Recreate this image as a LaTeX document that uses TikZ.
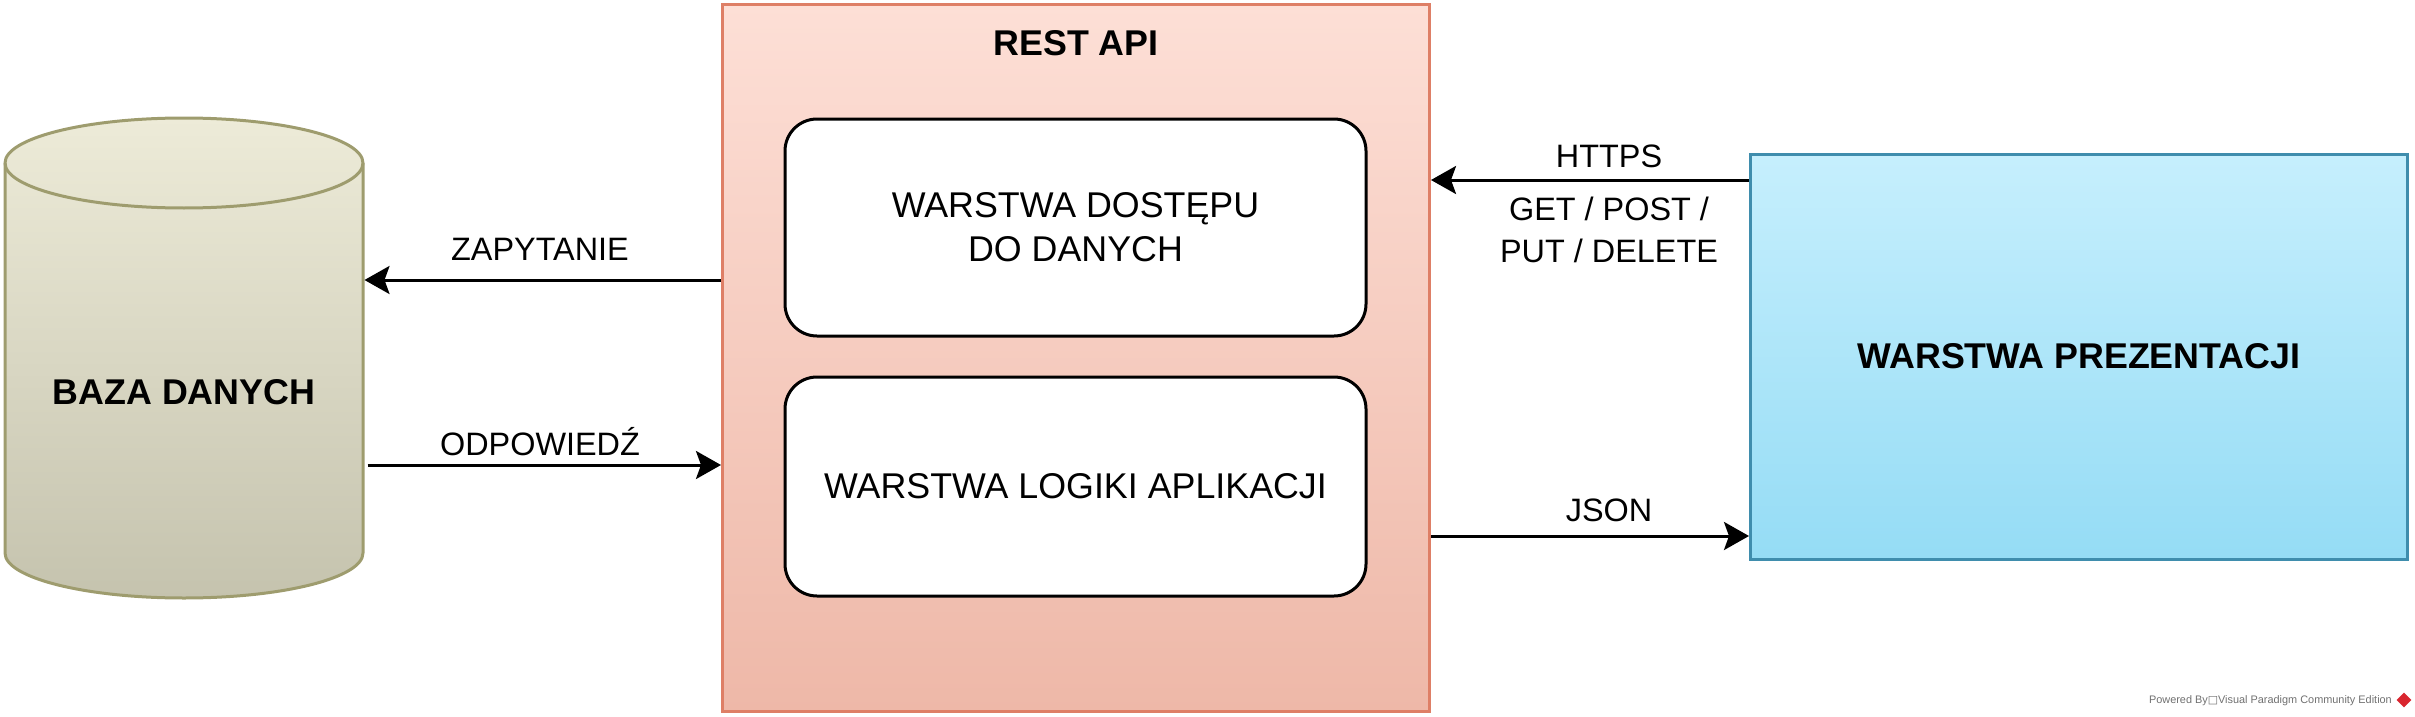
\documentclass[tikz,border=0pt]{standalone}
\usepackage{fontspec}
\setmainfont{Liberation Sans}
\newfontfamily\dejavu{DejaVu Sans}
\usetikzlibrary{arrows.meta,shapes.geometric}
\definecolor{dbtop}{HTML}{EDEBD8}
\definecolor{dbbot}{HTML}{C5C3AE}
\definecolor{dbstroke}{HTML}{9E9C6E}
\definecolor{apitop}{HTML}{FDDFD6}
\definecolor{apibot}{HTML}{EEB8A8}
\definecolor{apistroke}{HTML}{DE7F66}
\definecolor{prestop}{HTML}{C6EFFD}
\definecolor{presbot}{HTML}{95DCF5}
\definecolor{presstroke}{HTML}{3F8DAD}
\definecolor{wmgray}{HTML}{707070}
\definecolor{vpred}{HTML}{D9262F}
\tikzset{
  big/.style={font=\fontsize{35.8}{44}\selectfont},
  bigbold/.style={font=\fontsize{35.8}{44}\selectfont\bfseries},
  elabel/.style={font=\fontsize{32.4}{42}\selectfont, align=center, inner sep=0pt},
  layerbox/.style={draw=black, fill=white, line width=3pt, rounded corners=32pt,
    minimum width=581pt, align=center, big},
  arr/.style={line width=3pt, -{Stealth[length=25pt, width=28pt, inset=5pt]}},
}
\begin{document}
\begin{tikzpicture}[x=1pt,y=-1pt]
\useasboundingbox (0,0) rectangle (2415,717);
% database cylinder
\shade[top color=dbtop, bottom color=dbbot, draw=dbstroke, line width=3pt]
  (5,163) -- (5,553) arc[start angle=180, end angle=360, x radius=179pt, y radius=45pt]
  -- (363,163) arc[start angle=0, end angle=180, x radius=179pt, y radius=45pt] -- cycle;
\draw[dbstroke, line width=3pt] (5,163) arc[start angle=180, end angle=360, x radius=179pt, y radius=45pt];
\node[minimum width=358pt, minimum height=481pt, inner sep=0pt, outer sep=1.5pt] (db) at (184,357.5) {};
\node[bigbold] (dblabel) at (184,392) {BAZA DANYCH};
% REST API
\node[draw=apistroke, line width=3pt, top color=apitop, bottom color=apibot,
  minimum width=707pt, minimum height=706pt, inner sep=0pt] (api) at (1076,358) {};
\node[bigbold] (apititle) at (1076,43) {REST API};
\node[layerbox, minimum height=217pt] (dal) at (1075.5,227.5)
  {WARSTWA DOSTĘPU\\DO DANYCH};
\node[layerbox, minimum height=219pt] (logic) at (1075.5,486.5)
  {WARSTWA LOGIKI APLIKACJI};
% presentation
\node[draw=presstroke, line width=3pt, top color=prestop, bottom color=presbot,
  minimum width=657pt, minimum height=405pt, inner sep=0pt, bigbold] (pres) at (2079,356.5)
  {WARSTWA PREZENTACJI};
% connectors
\draw[arr] (api.west |- 0,280) -- (db.east |- 0,280);
\draw[arr] ([xshift=3pt]db.east |- 0,465) -- (api.west |- 0,465);
\draw[arr] (pres.west |- 0,180) -- (api.east |- 0,180);
\draw[arr] (api.east |- 0,536) -- (pres.west |- 0,536);
% labels
\node[elabel] (lzap) at (540,249) {ZAPYTANIE};
\node[elabel] (lodp) at (540,442) {ODPOWIEDŹ};
\node[elabel] (lhttps) at (1609,156) {HTTPS};
\node[elabel] (lget) at (1609,230) {GET / POST /\\PUT / DELETE};
\node[elabel] (ljson) at (1609,510) {JSON};
% watermark
\node[font=\fontsize{10.9}{12}\selectfont, text=wmgray, anchor=east, inner sep=0pt] (wm) at (2392,701)
  {Powered By{\dejavu □}Visual Paradigm Community Edition};
\node[diamond, fill=vpred, minimum width=15pt, minimum height=15pt, inner sep=0pt] (logo) at (2404,700) {};
\end{tikzpicture}
\end{document}
